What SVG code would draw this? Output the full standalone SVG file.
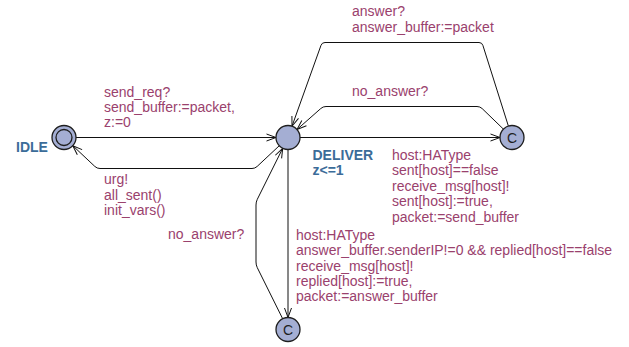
<svg xmlns="http://www.w3.org/2000/svg" width="629" height="347" viewBox="0 0 629 347">
<style>
.loc{fill:#a4aed3;stroke:#1e1e1e;stroke-width:1.3}
.name{font-family:"Liberation Sans",Arial,sans-serif;font-size:14px;font-weight:bold;fill:#3b6c99}
.lbl{font-family:"Liberation Sans",Arial,sans-serif;font-size:14px;fill:#9a416d}
.c{font-family:"Liberation Sans",Arial,sans-serif;font-size:14px;fill:#1e1e1e;text-anchor:middle}
.edge{fill:none;stroke:#111;stroke-width:1;marker-end:url(#arr)}
</style>
<defs>
<marker id="arr" viewBox="-11 -5 12 10" refX="0" refY="0" markerWidth="12" markerHeight="10" markerUnits="userSpaceOnUse" orient="auto">
<path d="M-9.5,-3.5 L0,0 L-9.5,3.5" fill="none" stroke="#111" stroke-width="1"/>
</marker>
</defs>
<rect width="629" height="347" fill="#ffffff"/>
<g id="connectors">
<path class="edge" d="M76,137.5 L276,137.5"/>
<path class="edge" d="M279.3,145.7 L257.2,166.4 Q255,168.5 252,168.5 L100,168.5 Q97,168.5 94.8,166.4 L72.8,145.7"/>
<path class="edge" d="M300,137.5 L500,137.5"/>
<path class="edge" d="M503.4,129.1 L482.2,108.6 Q480,106.5 477,106.5 L326,106.5 Q323,106.5 320.8,108.5 L297,129.5"/>
<path class="edge" d="M508.4,126.1 L482.9,45.4 Q482,42.5 479,42.5 L325,42.5 Q322,42.5 321,45.3 L292,126.2"/>
<path class="edge" d="M288,149.5 L288,317.5"/>
<path class="edge" d="M282.7,318.8 L257.3,267.7 Q256,265 256,262 L256,205 Q256,202 257.3,199.3 L282.7,148.3"/>
</g>
<g id="labels">
<text class="lbl" x="104" y="97">send_req?</text>
<text class="lbl" x="104" y="112">send_buffer:=packet,</text>
<text class="lbl" x="104" y="127">z:=0</text>
<text class="lbl" x="104" y="184">urg!</text>
<text class="lbl" x="104" y="199.5">all_sent()</text>
<text class="lbl" x="104" y="215">init_vars()</text>
<text class="lbl" x="352" y="16">answer?</text>
<text class="lbl" x="352" y="31.5">answer_buffer:=packet</text>
<text class="lbl" x="352" y="96">no_answer?</text>
<text class="lbl" x="392" y="159.5">host:HAType</text>
<text class="lbl" x="392" y="175">sent[host]==false</text>
<text class="lbl" x="392" y="190.5">receive_msg[host]!</text>
<text class="lbl" x="392" y="206">sent[host]:=true,</text>
<text class="lbl" x="392" y="221.5">packet:=send_buffer</text>
<text class="lbl" x="168" y="238.5">no_answer?</text>
<text class="lbl" x="296" y="240">host:HAType</text>
<text class="lbl" x="296" y="255.3">answer_buffer.senderIP!=0 &amp;&amp; replied[host]==false</text>
<text class="lbl" x="296" y="270.6">receive_msg[host]!</text>
<text class="lbl" x="296" y="285.9">replied[host]:=true,</text>
<text class="lbl" x="296" y="301.2">packet:=answer_buffer</text>
</g>
<g id="IDLE">
<circle class="loc" cx="64" cy="137.5" r="12"/>
<circle cx="64" cy="137.5" r="8" fill="none" stroke="#1e1e1e" stroke-width="1.3"/>
<text class="name" x="16" y="152">IDLE</text>
</g>
<g id="DELIVER">
<circle class="loc" cx="288" cy="137.5" r="12"/>
<text class="name" x="312.5" y="160">DELIVER</text>
<text class="name" x="312.5" y="175">z&lt;=1</text>
</g>
<g id="C1">
<circle class="loc" cx="512" cy="137.5" r="12"/>
<text class="c" x="512" y="142.5">C</text>
</g>
<g id="C2">
<circle class="loc" cx="288" cy="329.5" r="12"/>
<text class="c" x="288" y="334.5">C</text>
</g>
</svg>
